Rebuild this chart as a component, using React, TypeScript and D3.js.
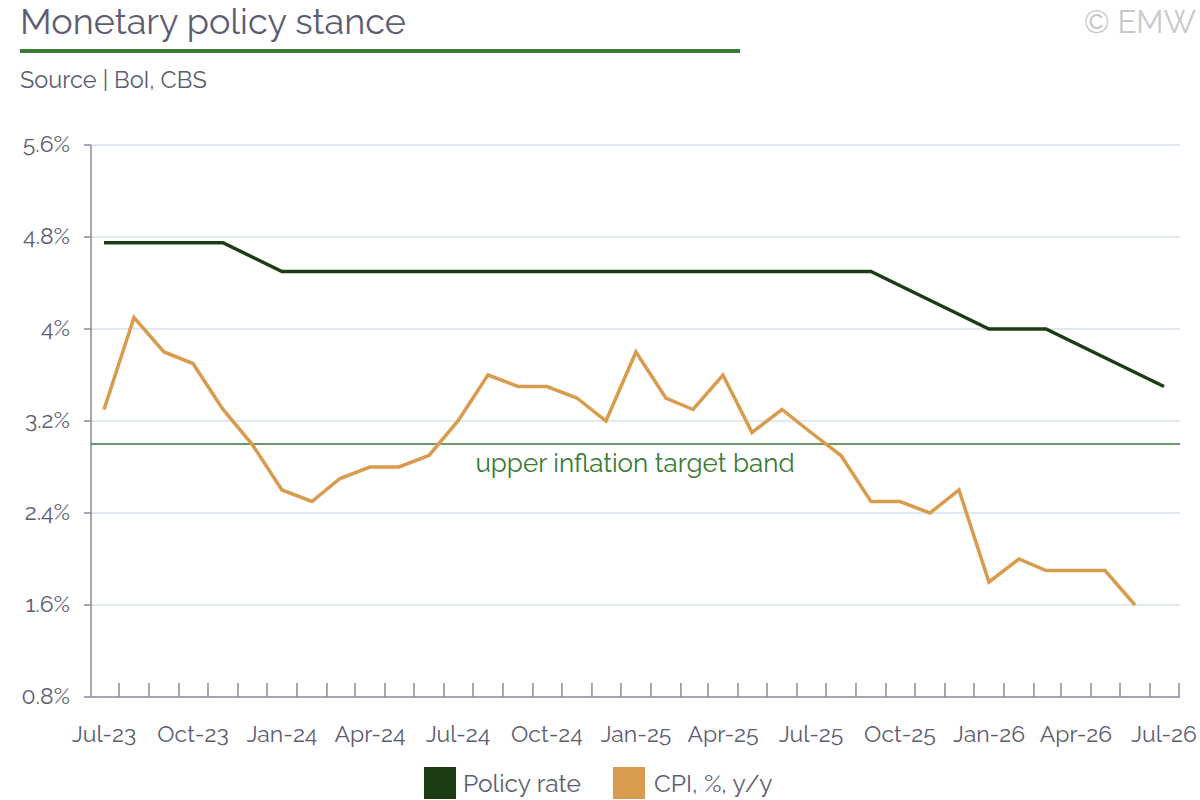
import React from "react";
import * as d3 from "d3";

const months = d3.range(0, 37).map((i) => new Date(2023, 6 + i, 1));
const cpiValues = [3.3, 4.1, 3.8, 3.7, 3.3, 3.0, 2.6, 2.5, 2.7, 2.8, 2.8, 2.9, 3.2, 3.6, 3.5, 3.5, 3.4, 3.2, 3.8, 3.4, 3.3, 3.6, 3.1, 3.3, 3.1, 2.9, 2.5, 2.5, 2.4, 2.6, 1.8, 2.0, 1.9, 1.9, 1.9, 1.6];
const policyIdx = [0, 4, 6, 26, 28, 30, 32, 34, 36];
const policyValues = [4.75, 4.75, 4.5, 4.5, 4.25, 4.0, 4.0, 3.75, 3.5];
const yTicks = [0.8, 1.6, 2.4, 3.2, 4.0, 4.8, 5.6];
const xLabelIdx = [0, 3, 6, 9, 12, 15, 18, 21, 24, 27, 30, 33, 36];
const targetBand = 3.0;

const font = "Raleway, Lato, 'Open Sans', sans-serif";
const grey = "#5d5d72";

export default function App() {
  const x = d3.scaleTime().domain([months[0], months[36]]).range([104, 1164]);
  const y = d3.scaleLinear().domain([0.8, 5.6]).range([697, 145]);
  const line = d3.line<[Date, number]>().x((d) => x(d[0])).y((d) => y(d[1]));
  const cpiPath = line(cpiValues.map((v, i) => [months[i], v]));
  const polPath = line(policyValues.map((v, i) => [months[policyIdx[i]], v]));
  const fmt = d3.timeFormat("%b-%y");
  return (
    <svg width={1200} height={800} style={{ position: "absolute", left: 0, top: 0, background: "#fff" }} fontFamily={font}>
      <text x={20} y={34} fontSize={36} fill={grey}>Monetary policy stance</text>
      <line x1={20} x2={740} y1={51} y2={51} stroke="#3a7a35" strokeWidth={4} />
      <text x={20} y={88} fontSize={23.5} fill={grey}>Source | BoI, CBS</text>
      <text x={1196} y={33} fontSize={31} fill="#c8c8cc" textAnchor="end">© EMW</text>
      {yTicks.map((t) => (
        <g key={t}>
          {t > 0.8 && <line x1={91} x2={1180} y1={y(t)} y2={y(t)} stroke="#d6e2ec" strokeWidth={1.5} />}
          <line x1={84} x2={91} y1={y(t)} y2={y(t)} stroke="#8a8a98" strokeWidth={1.5} />
          <text x={70} y={y(t) + 7} fontSize={23} fill={grey} textAnchor="end">{(t === 4 ? "4" : t.toFixed(1)) + "%"}</text>
        </g>
      ))}
      <line x1={91} x2={91} y1={145} y2={697} stroke="#8a8a98" strokeWidth={1.5} />
      <line x1={91} x2={1180} y1={697} y2={697} stroke="#8a8a98" strokeWidth={1.5} />
      {months.map((m, i) => (
        <line key={i} x1={x(m) + 15} x2={x(m) + 15} y1={683} y2={697} stroke="#8a8a98" strokeWidth={1.5} />
      ))}
      {xLabelIdx.map((i) => (
        <text key={i} x={x(months[i])} y={742} fontSize={23} fill={grey} textAnchor="middle">{fmt(months[i])}</text>
      ))}
      <line x1={91} x2={1180} y1={y(targetBand)} y2={y(targetBand)} stroke="#3a7a35" strokeWidth={1.5} />
      <text x={635} y={472} fontSize={26} fill="#3a7a35" textAnchor="middle">upper inflation target band</text>
      <path d={polPath || ""} fill="none" stroke="#1c3d14" strokeWidth={3.5} />
      <path d={cpiPath || ""} fill="none" stroke="#d99b4e" strokeWidth={3.5} />
      <rect x={424} y={767} width={32} height={32} fill="#1c3d14" />
      <text x={463} y={792} fontSize={24.5} fill={grey}>Policy rate</text>
      <rect x={613} y={767} width={32} height={32} fill="#d99b4e" />
      <text x={654} y={792} fontSize={24.5} fill={grey}>CPI, %, y/y</text>
    </svg>
  );
}
